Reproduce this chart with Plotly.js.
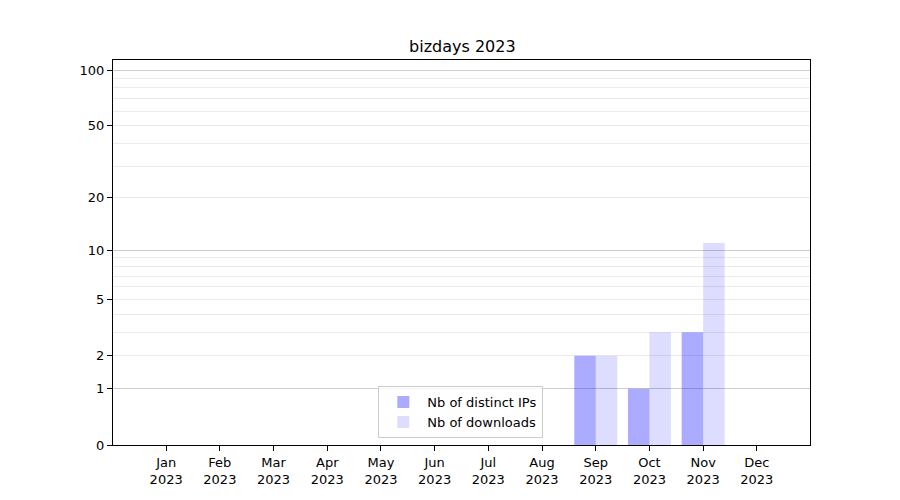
<!DOCTYPE html>
<html>
<head>
<meta charset="utf-8">
<script src="https://cdn.plot.ly/plotly-3.0.1.min.js"></script>
<style>html,body{margin:0;padding:0;background:#fff;}#chart{width:900px;height:500px;}</style>
</head>
<body>
<div id="chart"></div>
<script>
const months = ["Jan<br>2023","Feb<br>2023","Mar<br>2023","Apr<br>2023","May<br>2023","Jun<br>2023","Jul<br>2023","Aug<br>2023","Sep<br>2023","Oct<br>2023","Nov<br>2023","Dec<br>2023"];
const distinctIPs = [0,0,0,0,0,0,0,0,2,1,3,0];
const downloads   = [0,0,0,0,0,0,0,0,2,3,11,0];
const yTickValues = [0,1,2,5,10,20,50,100];
const yMajorGrid  = [1,10,100];
const yMinorGrid  = [3,4,6,7,8,9,30,40,60,70,80,90];

// axis is log10(1 + value)
const shift = v => v + 1;
const font = {family: "DejaVu Sans", size: 13, color: "#000"};

const traces = [
  {type: "bar", name: "Nb of distinct IPs", x: months, y: distinctIPs.map(shift),
   marker: {color: "rgba(0,0,255,0.33)", line: {width: 0}}, yaxis: "y"},
  {type: "bar", name: "Nb of downloads", x: months, y: downloads.map(shift),
   marker: {color: "rgba(0,0,255,0.135)", line: {width: 0}}, yaxis: "y"}
];

const yRange = [0, 2.058];
const layout = {
  width: 900, height: 500,
  margin: {l: 113, r: 90, t: 60, b: 55},
  paper_bgcolor: "#fff", plot_bgcolor: "#fff",
  font: font,
  title: {text: "bizdays 2023", font: {family: "DejaVu Sans", size: 16, color: "#000"}, x: 0.5137, xanchor: "center", y: 0.908, yanchor: "middle"},
  barmode: "group", bargap: 0.2, bargroupgap: 0,
  showlegend: true,
  legend: {x: 0.499, xanchor: "center", y: 0.018, yanchor: "bottom", itemwidth: 38,
           bgcolor: "rgba(255,255,255,0.8)", bordercolor: "#cccccc", borderwidth: 1,
           font: {family: "DejaVu Sans", size: 13, color: "#000"}, traceorder: "normal"},
  xaxis: {type: "category", range: [-0.99, 11.99], showgrid: false,
          showline: true, linecolor: "#000", linewidth: 1, mirror: true,
          ticks: "outside", ticklen: 5, tickcolor: "#000", tickfont: font},
  yaxis: {type: "log", range: yRange, autorange: false,
          tickmode: "array", tickvals: yTickValues.map(shift), ticktext: yTickValues.map(String),
          showgrid: true, gridcolor: "#ebebeb", gridwidth: 1,
          minor: {tickmode: "array", tickvals: yMinorGrid.map(shift), showgrid: true, gridcolor: "#ebebeb", ticks: ""},
          showline: true, linecolor: "#000", linewidth: 1, mirror: true,
          ticks: "outside", ticklen: 5, tickcolor: "#000", tickfont: font, zeroline: false},
  yaxis2: {type: "log", range: yRange, autorange: false, overlaying: "y", side: "left",
           tickmode: "array", tickvals: yMajorGrid.map(shift), showticklabels: false, ticks: "",
           showgrid: true, gridcolor: "#cccccc", gridwidth: 1, showline: false, zeroline: false}
};

// dummy invisible trace to activate yaxis2
traces.push({type: "scatter", x: [months[0]], y: [1], yaxis: "y2", mode: "markers",
             marker: {opacity: 0}, showlegend: false, hoverinfo: "skip"});

Plotly.newPlot("chart", traces, layout, {displayModeBar: false, staticPlot: true});
</script>
</body>
</html>
